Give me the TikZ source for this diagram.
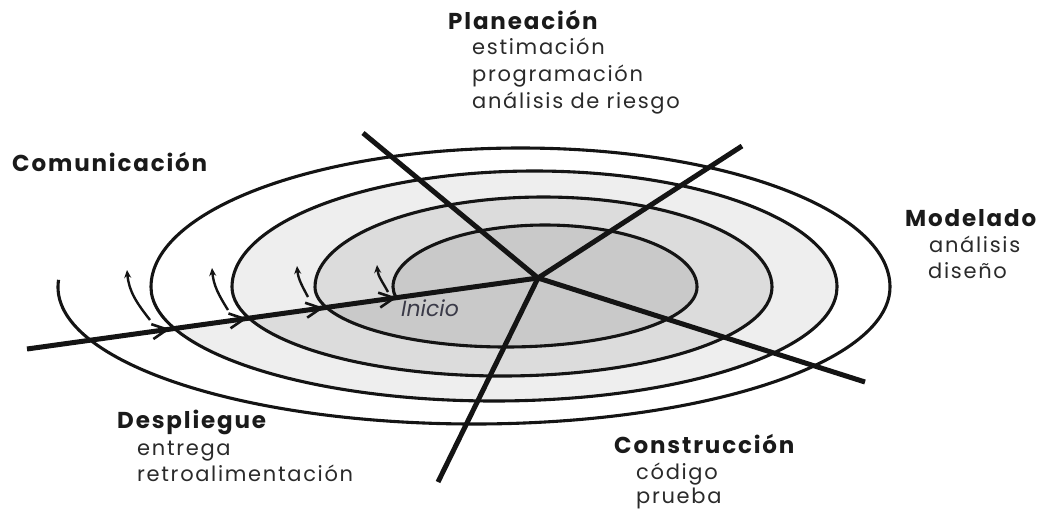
\documentclass[tikz,border=0pt]{standalone}
\usepackage{fontspec}
\setmainfont{Poppins}
\newfontfamily\headfont[LetterSpace=8]{Poppins}
\newfontfamily\subfont[LetterSpace=8]{Poppins}
\usetikzlibrary{arrows.meta,calc}
\definecolor{bandA}{HTML}{EEEEEE}
\definecolor{bandB}{HTML}{DCDCDC}
\definecolor{bandC}{HTML}{C9C9C9}
\definecolor{ink}{HTML}{1A1A1A}
\definecolor{subink}{HTML}{2A2A2A}
\definecolor{inicioink}{HTML}{3A3A48}
\begin{document}
\begin{tikzpicture}[x=1pt,y=1pt,
  ring/.style={line width=3.1pt, black!92},
  radial/.style={line width=5pt, black!92},
  barbhead/.style={line width=2.6pt, black!92, -{Straight Barb[length=15pt,width=15pt]}},
  loopback/.style={line width=2.4pt, black!92, -{Stealth[length=8pt,width=7pt]}},
  head/.style={anchor=base west, inner sep=0pt, font=\headfont\bfseries\fontsize{23}{27}\selectfont, text=ink},
  sub/.style={anchor=base west, inner sep=0pt, font=\subfont\fontsize{21}{25}\selectfont, text=subink},
]
\useasboundingbox (0,0) rectangle (1054,-512);

% shaded bands of the spiral (each turn closed along the entry line)
\fill[bandA] ([shift={(494,-287)}]201.3:343pt and 114pt)
  arc[start angle=201.3,end angle=360,x radius=343pt,y radius=114pt]
  arc[start angle=0,end angle=180,x radius=302.5pt,y radius=116pt]
  arc[start angle=180,end angle=200.5,x radius=270pt,y radius=89pt] -- cycle;
\fill[bandB] ([shift={(502,-287)}]200.5:270pt and 89pt)
  arc[start angle=200.5,end angle=360,x radius=270pt,y radius=89pt]
  arc[start angle=0,end angle=180,x radius=228.5pt,y radius=90pt]
  arc[start angle=180,end angle=200,x radius=191pt,y radius=60pt] -- cycle;
\fill[bandC] ([shift={(506,-287)}]200:191pt and 60pt)
  arc[start angle=200,end angle=360,x radius=191pt,y radius=60pt]
  arc[start angle=0,end angle=180,x radius=152pt,y radius=62pt]
  arc[start angle=180,end angle=193.5,x radius=120pt,y radius=45pt] -- cycle;

% the spiral
\draw[ring] ([shift={(474,-287)}]177:416pt and 137pt)
  arc[start angle=177,end angle=360,x radius=416pt,y radius=137pt]
  arc[start angle=0,end angle=180,x radius=369.5pt,y radius=139pt]
  arc[start angle=180,end angle=360,x radius=343pt,y radius=114pt]
  arc[start angle=0,end angle=180,x radius=302.5pt,y radius=116pt]
  arc[start angle=180,end angle=360,x radius=270pt,y radius=89pt]
  arc[start angle=0,end angle=180,x radius=228.5pt,y radius=90pt]
  arc[start angle=180,end angle=360,x radius=191pt,y radius=60pt]
  arc[start angle=0,end angle=180,x radius=152pt,y radius=62pt]
  arc[start angle=180,end angle=193.5,x radius=120pt,y radius=45pt];

% radial sector lines
\coordinate (O) at (538,-278);
\coordinate (P1) at (363,-133);
\coordinate (P2) at (742,-146);
\coordinate (P3) at (865,-382);
\coordinate (P4) at (438,-482);
\coordinate (S) at (27,-349);
\draw[radial] (O) -- (P1);
\draw[radial] (O) -- (P2);
\draw[radial] (O) -- (P3);
\draw[radial] (O) -- (P4);
\draw[radial] (S) -- (O);

% arrowheads on the entry line
\coordinate (h1a) at ($(S)!0.250!(O)$); \coordinate (h1b) at ($(S)!0.280!(O)$);
\coordinate (h2a) at ($(S)!0.401!(O)$); \coordinate (h2b) at ($(S)!0.431!(O)$);
\coordinate (h3a) at ($(S)!0.551!(O)$); \coordinate (h3b) at ($(S)!0.581!(O)$);
\coordinate (h4a) at ($(S)!0.694!(O)$); \coordinate (h4b) at ($(S)!0.724!(O)$);
\draw[barbhead] (h1a) -- (h1b);
\draw[barbhead] (h2a) -- (h2b);
\draw[barbhead] (h3a) -- (h3b);
\draw[barbhead] (h4a) -- (h4b);

% small curved arrows
\coordinate (a1s) at (150,-320); \coordinate (a1e) at (127,-270);
\coordinate (a2s) at (228,-310); \coordinate (a2e) at (212,-268);
\coordinate (a3s) at (308,-297); \coordinate (a3e) at (297,-266);
\coordinate (a4s) at (388,-292); \coordinate (a4e) at (377,-265);
\draw[loopback] (a1s) to[out=128,in=-85] (a1e);
\draw[loopback] (a2s) to[out=122,in=-85] (a2e);
\draw[loopback] (a3s) to[out=118,in=-85] (a3e);
\draw[loopback] (a4s) to[out=118,in=-85] (a4e);

\node[anchor=base west, inner sep=0pt, font=\itshape\fontsize{22}{26}\selectfont, text=inicioink] (inicio) at (401,-316) {Inicio};

% labels
\node[head] (plan) at (448,-29) {Planeación};
\node[sub] (est) at (472,-54) {estimación};
\node[sub] (prog) at (472,-81) {programación};
\node[sub] (riesgo) at (472,-108) {análisis de riesgo};
\node[head] (com) at (12,-171) {Comunicación};
\node[head] (mod) at (905,-226) {Modelado};
\node[sub] (anal) at (929,-252) {análisis};
\node[sub] (dis) at (928,-278) {diseño};
\node[head] (desp) at (117,-428) {Despliegue};
\node[sub] (ent) at (137,-455) {entrega};
\node[sub] (retro) at (137,-481) {retroalimentación};
\node[head] (cons) at (614,-453) {Construcción};
\node[sub] (cod) at (636,-479) {código};
\node[sub] (prue) at (636,-503) {prueba};
\end{tikzpicture}
\end{document}
